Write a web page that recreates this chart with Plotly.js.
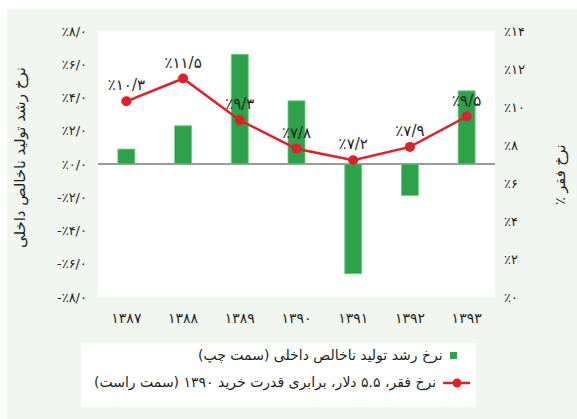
<!DOCTYPE html>
<html>
<head>
<meta charset="utf-8">
<script src="https://cdn.plot.ly/plotly-3.0.1.min.js"></script>
<style>html,body{margin:0;padding:0;background:#fff;}#chart{width:577px;height:419px;}</style>
</head>
<body>
<div id="chart"></div>
<script>
// ---- data ----
const years = ['۱۳۸۷', '۱۳۸۸', '۱۳۸۹', '۱۳۹۰', '۱۳۹۱', '۱۳۹۲', '۱۳۹۳'];
const gdpGrowth = [0.9, 2.3, 6.6, 3.8, -6.6, -1.9, 4.4];
const povertyRate = [10.3, 11.5, 9.3, 7.8, 7.2, 7.9, 9.5];
const povertyLabels = ['٪۱۰/۳', '٪۱۱/۵', '٪۹/۳', '٪۷/۸', '٪۷/۲', '٪۷/۹', '٪۹/۵'];
const leftTickVals = [-8, -6, -4, -2, 0, 2, 4, 6, 8];
const leftTickText = ['-٪۸/۰', '-٪۶/۰', '-٪۴/۰', '-٪۲/۰', '٪۰/۰', '٪۲/۰', '٪۴/۰', '٪۶/۰', '٪۸/۰'];
const rightTickVals = [0, 2, 4, 6, 8, 10, 12, 14];
const rightTickText = ['٪۰', '٪۲', '٪۴', '٪۶', '٪۸', '٪۱۰', '٪۱۲', '٪۱۴'];
const gdpName = 'نرخ رشد تولید ناخالص داخلی (سمت چپ)';
const povertyName = 'نرخ فقر، ۵.۵ دلار، برابری قدرت خرید ۱۳۹۰ (سمت راست)';
const leftTitle = 'نرخ رشد تولید ناخالص داخلی';
const rightTitle = '٪ نرخ فقر';

const GREEN = '#2ca34a';
const RED = '#e0202b';
const PANEL = '#f2f6f1';
const TXT = '#231f20';
const FONT = 'DejaVu Sans, sans-serif';
const RLE = '\u202B', PDF = '\u202C';

const traces = [
  {
    type: 'bar', x: years, y: gdpGrowth, name: gdpName,
    marker: {color: GREEN, line: {color: '#7cc98f', width: 0.8}},
    yaxis: 'y', showlegend: false, hoverinfo: 'x+y'
  },
  {
    type: 'scatter', mode: 'lines+markers+text', x: years, y: povertyRate,
    text: povertyLabels, textposition: 'top center',
    textfont: {family: FONT, size: 15, color: TXT},
    name: povertyName, yaxis: 'y2', showlegend: false, cliponaxis: false,
    line: {color: RED, width: 2.5}, marker: {color: RED, size: 10}
  }
];

const layout = {
  width: 577, height: 419,
  margin: {l: 98, r: 82, t: 31, b: 122},
  paper_bgcolor: '#ffffff',
  plot_bgcolor: 'rgba(0,0,0,0)',
  font: {family: FONT, color: TXT},
  bargap: 0.7,
  xaxis: {
    type: 'category', showgrid: false, zeroline: false, showline: false, ticks: '',
    tickfont: {family: FONT, size: 14, color: TXT}, ticklabelstandoff: 11
  },
  yaxis: {
    range: [-8, 8], tickvals: leftTickVals, ticktext: leftTickText,
    showgrid: false, zeroline: true, zerolinecolor: '#9a9a9a', zerolinewidth: 1.3,
    showline: false, ticks: '', tickfont: {family: FONT, size: 13, color: TXT},
    ticklabelstandoff: 10
  },
  yaxis2: {
    range: [0, 14], tickvals: rightTickVals, ticktext: rightTickText,
    overlaying: 'y', side: 'right', showgrid: false, zeroline: false,
    showline: false, ticks: '', tickfont: {family: FONT, size: 13, color: TXT},
    ticklabelstandoff: 8
  },
  shapes: [
    // outer panel
    {type: 'rect', xref: 'paper', yref: 'paper', x0: -0.2292, x1: 1.21, y0: -0.47, y1: 1.0827,
     fillcolor: PANEL, line: {width: 0}, layer: 'below'},
    // plot area
    {type: 'rect', xref: 'paper', yref: 'paper', x0: 0, x1: 1, y0: 0, y1: 1,
     fillcolor: '#ffffff', line: {width: 0}, layer: 'below'},
    // legend box
    {type: 'rect', xref: 'paper', yref: 'paper', x0: -0.0428, x1: 0.952, y0: -0.4135, y1: -0.1729,
     fillcolor: '#ffffff', line: {width: 0}, layer: 'below'},
    // legend symbol: green square
    {type: 'rect', xref: 'paper', yref: 'paper', x0: 0.8866, x1: 0.9043, y0: -0.2331, y1: -0.2068,
     fillcolor: GREEN, line: {width: 0}},
    // legend symbol: red line + dot
    {type: 'line', xref: 'paper', yref: 'paper', x0: 0.869, x1: 0.937, y0: -0.3233, y1: -0.3233,
     line: {color: RED, width: 2.5}},
    {type: 'circle', xref: 'paper', yref: 'paper', x0: 0.8931, x1: 0.9155, y0: -0.3402, y1: -0.3064,
     fillcolor: RED, line: {width: 0}}
  ],
  annotations: [
    {xref: 'paper', yref: 'paper', x: 0.874, y: -0.2218, xanchor: 'right', yanchor: 'middle',
     text: RLE + gdpName + PDF, showarrow: false, font: {family: FONT, size: 14, color: TXT}},
    {xref: 'paper', yref: 'paper', x: 0.8564, y: -0.3233, xanchor: 'right', yanchor: 'middle',
     text: RLE + povertyName + PDF, showarrow: false, font: {family: FONT, size: 14, color: TXT}},
    {xref: 'paper', yref: 'paper', x: -0.1965, y: 0.526, xanchor: 'center', yanchor: 'middle',
     textangle: -90, text: leftTitle, showarrow: false, font: {family: FONT, size: 15, color: TXT}},
    {xref: 'paper', yref: 'paper', x: 1.1637, y: 0.462, xanchor: 'center', yanchor: 'middle',
     textangle: -90, text: rightTitle, showarrow: false, font: {family: FONT, size: 14.5, color: TXT}}
  ]
};

Plotly.newPlot('chart', traces, layout, {staticPlot: true, displayModeBar: false});
</script>
</body>
</html>
